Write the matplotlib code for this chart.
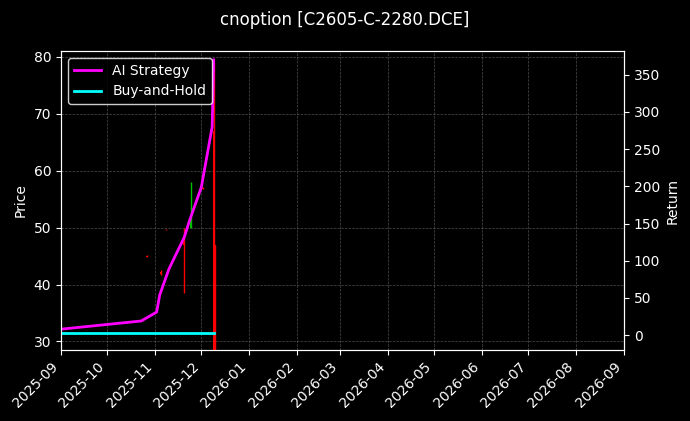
import numpy as np
import pandas as pd
import matplotlib
matplotlib.use("Agg")
import matplotlib.pyplot as plt
import matplotlib.dates as mdates

# candles (sparse daily bars)
candle_dates = pd.to_datetime(["2025-10-27", "2025-11-05", "2025-11-08", "2025-11-20",
                               "2025-11-24", "2025-12-02", "2025-12-09", "2025-12-10"])
c_open = [45.0, 42.2, 49.6, 47.5, 50.0, 57.0, 67.0, 47.0]
c_high = [45.1, 42.6, 49.7, 50.0, 58.0, 57.2, 79.0, 47.0]
c_low = [44.9, 41.6, 49.5, 38.5, 50.0, 56.8, 28.0, 28.0]
c_close = [44.9, 41.8, 49.5, 47.0, 52.0, 56.8, 28.5, 28.5]

# strategy returns (right axis)
ret_dates = pd.to_datetime(["2025-09-01", "2025-10-23", "2025-11-02", "2025-11-04",
                            "2025-11-10", "2025-11-20", "2025-11-23", "2025-12-01",
                            "2025-12-08", "2025-12-09"])
ai_ret = [8, 19, 31, 54, 89, 132, 152, 199, 280, 370]
bh_dates = pd.to_datetime(["2025-09-01", "2025-12-09"])
bh_ret = [3, 3]

plt.style.use("dark_background")
fig = plt.figure(figsize=(6.9, 4.21), dpi=100)
ax = fig.add_axes([61/690, 71/421, 563/690, 299/421])
ax.set_facecolor("black")
for d, o, h, l, c in zip(candle_dates, c_open, c_high, c_low, c_close):
    col = "#00c000" if c >= o else "red"
    ax.vlines(d, l, h, color=col, linewidth=1)
    ax.bar(d, abs(c - o) or 0.1, bottom=min(o, c), width=1.2, color=col)
ax.set_ylim(28.5, 81)
ax.set_xlim(pd.Timestamp("2025-09-01"), pd.Timestamp("2026-09-01"))
ax.set_ylabel("Price")
ax.grid(True, color="gray", linestyle="--", linewidth=0.5, alpha=0.6)
ax.xaxis.set_major_locator(mdates.MonthLocator())
ax.xaxis.set_major_formatter(mdates.DateFormatter("%Y-%m"))
plt.setp(ax.get_xticklabels(), rotation=45, ha="right")

ax2 = ax.twinx()
ax2.plot(ret_dates, ai_ret, color="#ff00ff", linewidth=2, label="AI Strategy")
ax2.plot(bh_dates, bh_ret, color="cyan", linewidth=2, label="Buy-and-Hold")
ax2.set_ylim(-20, 382)
ax2.set_ylabel("Return")
ax2.legend(loc="upper left", facecolor="black", edgecolor="white")

fig.suptitle("cnoption [C2605-C-2280.DCE]", y=0.975)
fig.savefig("out.png", facecolor="black")
